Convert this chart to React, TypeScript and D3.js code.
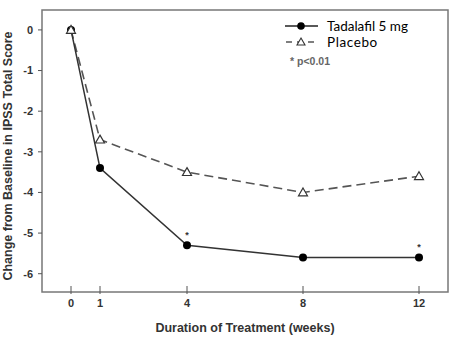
import React from 'react';
import { scaleLinear, line } from 'd3';

// weeks on treatment
const weeks = [0, 1, 4, 8, 12];
// change from baseline in IPSS total score
const tadalafil = [0, -3.4, -5.3, -5.6, -5.6];
const placebo = [0, -2.7, -3.5, -4.0, -3.6];
const yTicks = [0, -1, -2, -3, -4, -5, -6];
// weeks where tadalafil differs at p<0.01
const significant = [4, 12];

const W = 476;
const H = 361;
const left = 42;
const right = 448;
const top = 10;
const bottom = 292;

const App = () => {
  const x = scaleLinear().domain([0, 12]).range([71, 419]);
  const y = scaleLinear().domain([0.49, -6.45]).range([top, bottom]);

  const pts = (vals: number[]) => weeks.map((w, i) => [w, vals[i]] as [number, number]);
  const path = line<[number, number]>()
    .x((d) => x(d[0]))
    .y((d) => y(d[1]));

  const tri = (cx: number, cy: number, s = 4.5) =>
    `M${cx},${cy - s}L${cx + s},${cy + s * 0.75}L${cx - s},${cy + s * 0.75}Z`;

  const axisFont = { fontFamily: 'Liberation Sans, Arial, sans-serif', fontWeight: 'bold' as const, fill: '#333' };

  return (
    <svg width={W} height={H} style={{ position: 'absolute', left: 0, top: 0, background: '#fff' }}>
      <rect x={left} y={top} width={right - left} height={bottom - top} fill="none" stroke="#777" strokeWidth={1.5} />

      {yTicks.map((t) => (
        <g key={t}>
          <line x1={left - 4} x2={left} y1={y(t)} y2={y(t)} stroke="#555" strokeWidth={1} />
          <text x={left - 9} y={y(t)} dy="0.35em" textAnchor="end" fontSize={11} {...axisFont}>
            {t}
          </text>
        </g>
      ))}

      {weeks.map((w) => (
        <g key={w}>
          <line x1={x(w)} x2={x(w)} y1={bottom - 6} y2={bottom + 2} stroke="#555" strokeWidth={1} />
          <text x={x(w)} y={bottom + 11} dy="0.35em" textAnchor="middle" fontSize={11} {...axisFont}>
            {w}
          </text>
        </g>
      ))}

      <text x={245} y={328} dy="0.35em" textAnchor="middle" fontSize={12.5} {...axisFont}>
        Duration of Treatment (weeks)
      </text>
      <text
        transform={`translate(8,156) rotate(-90)`}
        textAnchor="middle"
        dy="0.35em"
        fontSize={12.5}
        {...axisFont}
      >
        Change from Baseline in IPSS Total Score
      </text>

      <path d={path(pts(placebo)) || ''} fill="none" stroke="#555" strokeWidth={1.6} strokeDasharray="9,5" />
      <path d={path(pts(tadalafil)) || ''} fill="none" stroke="#333" strokeWidth={1.5} />

      {weeks.map((w, i) => (
        <circle key={w} cx={x(w)} cy={y(tadalafil[i])} r={4} fill="#000" />
      ))}
      {weeks.map((w, i) => (
        <path key={w} d={tri(x(w), y(placebo[i]))} fill="#fff" stroke="#333" strokeWidth={1.2} />
      ))}

      {significant.map((w) => {
        const i = weeks.indexOf(w);
        return (
          <text key={w} x={x(w)} y={y(tadalafil[i]) - 7} textAnchor="middle" fontSize={9} {...axisFont}>
            *
          </text>
        );
      })}

      <g>
        <line x1={285} x2={318} y1={26} y2={26} stroke="#222" strokeWidth={1.6} />
        <circle cx={301} cy={26} r={3.8} fill="#000" />
        <line x1={285} x2={318} y1={42} y2={42} stroke="#555" strokeWidth={1.4} strokeDasharray="6,5" strokeDashoffset={-1} />
        <path d={tri(301, 42, 4)} fill="#fff" stroke="#333" strokeWidth={1.1} />
        <text x={327} y={26} dy="0.35em" fontSize={13.5} fontFamily="Lato, sans-serif" fill="#000">
          Tadalafil 5 mg
        </text>
        <text x={327} y={42} dy="0.35em" fontSize={13.5} fontFamily="Lato, sans-serif" fill="#000" letterSpacing={0.6}>
          Placebo
        </text>
        <text x={290} y={61} dy="0.35em" fontSize={10.5} {...axisFont} fill="#666">
          * p&lt;0.01
        </text>
      </g>
    </svg>
  );
};

export default App;
